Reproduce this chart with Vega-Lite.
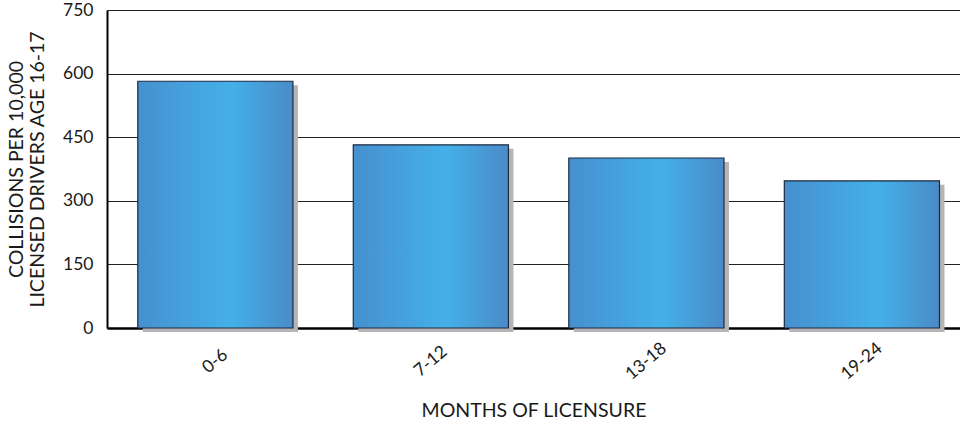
{
  "$schema": "https://vega.github.io/schema/vega-lite/v6.json",
  "autosize": {"type": "none"},
  "padding": {"left": 107, "top": 10, "right": 0, "bottom": 97},
  "width": 853,
  "height": 318,
  "background": "white",
  "config": {
    "font": "Lato",
    "view": {"stroke": null},
    "axis": {"labelColor": "#1a1a1a", "titleColor": "#1a1a1a", "labelFont": "Lato", "titleFont": "Lato", "titleFontWeight": "normal"}
  },
  "data": {
    "values": [
      {"months": "0-6", "collisions": 582},
      {"months": "7-12", "collisions": 432},
      {"months": "13-18", "collisions": 401},
      {"months": "19-24", "collisions": 347}
    ]
  },
  "encoding": {
    "x": {
      "field": "months",
      "type": "nominal",
      "sort": null,
      "scale": {"paddingInner": 0.28, "paddingOuter": 0.119, "align": 0.6},
      "axis": {
        "title": "MONTHS OF LICENSURE",
        "titleFontSize": 19.5,
        "titlePadding": 19,
        "labelAngle": -40,
        "labelAlign": "center",
        "labelBaseline": "middle",
        "labelPadding": 33,
        "labelFontSize": 17.5,
        "ticks": false,
        "domainColor": "#000",
        "domainWidth": 2.5
      }
    },
    "y": {
      "field": "collisions",
      "type": "quantitative",
      "scale": {"domain": [0, 750], "nice": false},
      "axis": {
        "title": ["COLLISIONS PER 10,000", "LICENSED DRIVERS AGE 16-17"],
        "titleFontSize": 19.5,
        "titleLineHeight": 21,
        "titlePadding": 15,
        "values": [0, 150, 300, 450, 600, 750],
        "labelFontSize": 17.5,
        "labelPadding": 14,
        "ticks": false,
        "domainColor": "#000",
        "domainWidth": 2,
        "grid": true,
        "gridColor": "#222",
        "gridWidth": 1
      }
    }
  },
  "layer": [
    {
      "mark": {"type": "bar", "color": "#b5b5b5", "xOffset": 5, "x2Offset": 5, "yOffset": 4, "y2Offset": 4}
    },
    {
      "mark": {
        "type": "bar",
        "stroke": "#1c2a40",
        "strokeWidth": 1.2,
        "fill": {
          "gradient": "linear",
          "x1": 0, "x2": 1, "y1": 0, "y2": 0,
          "stops": [
            {"offset": 0, "color": "#4690cf"},
            {"offset": 0.6, "color": "#44b0e8"},
            {"offset": 1, "color": "#4a8bc8"}
          ]
        }
      }
    }
  ]
}
